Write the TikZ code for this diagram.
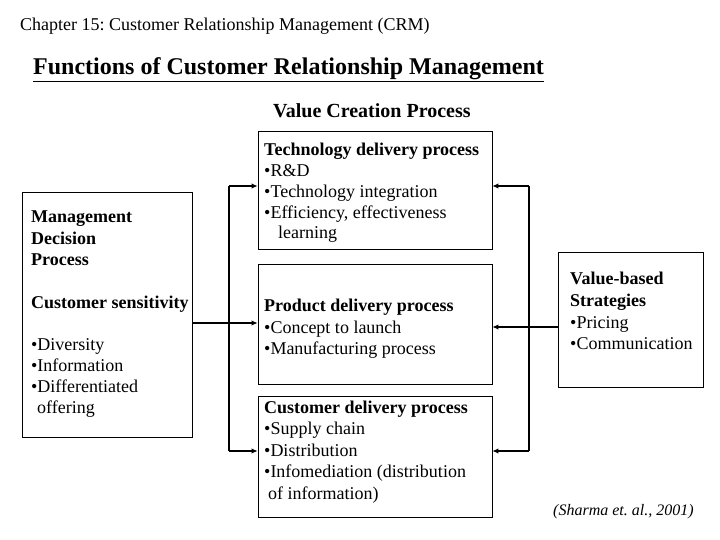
\documentclass[tikz,border=0pt]{standalone}
\usepackage{fontspec}
\setmainfont{Liberation Serif}
\usetikzlibrary{arrows.meta}
\frenchspacing
\tikzset{
  box/.style={draw=black, line width=0.8bp, rectangle, inner sep=0pt},
  conn/.style={draw=black, line width=1.7bp},
  arr/.style={conn, -{Latex[length=6bp,width=5.5bp]}},
  txt/.style={anchor=base west, inner sep=0pt, font=\fontsize{18bp}{21.5bp}\selectfont},
  btxt/.style={txt, font=\fontsize{18bp}{21.5bp}\selectfont\bfseries},
}
\begin{document}
\begin{tikzpicture}[x=1bp, y=-1bp]
\useasboundingbox (0,0) rectangle (720,540);
% headings
\node[anchor=base west, inner sep=0pt, font=\fontsize{18bp}{21bp}\selectfont] (chap) at (20,31) {Chapter 15: Customer Relationship Management (CRM)};
\node[anchor=base west, inner sep=0pt, font=\fontsize{24bp}{28bp}\selectfont\bfseries] (title) at (33,75) {\underline{Functions of Customer Relationship Management}};
\node[anchor=base west, inner sep=0pt, font=\fontsize{20bp}{24bp}\selectfont\bfseries] (vcp) at (273,118) {Value Creation Process};
\node[anchor=base west, inner sep=0pt, font=\fontsize{16bp}{19bp}\selectfont\itshape] (cite) at (553,515) {(Sharma et. al., 2001)};
% boxes
\node[box, minimum width=170bp, minimum height=245bp] (mgmt) at (107,314.5) {};
\node[box, minimum width=234bp, minimum height=118bp] (tech) at (375,190) {};
\node[box, minimum width=234bp, minimum height=120bp] (prod) at (375,324) {};
\node[box, minimum width=234bp, minimum height=121bp] (cust) at (375,456.5) {};
\node[box, minimum width=145bp, minimum height=135bp] (val) at (630.5,319.5) {};
% left box text
\node[btxt] (m1) at (31,223) {Management};
\node[btxt] (m2) at (31,245) {Decision};
\node[btxt] (m3) at (31,266) {Process};
\node[btxt] (m4) at (31,308) {Customer sensitivity};
\node[txt] (m5) at (31,350) {•Diversity};
\node[txt] (m6) at (31,371) {•Information};
\node[txt] (m7) at (31,392) {•Differentiated};
\node[txt] (m8) at (37,413) {offering};
% technology box text
\node[btxt] (t1) at (264,156) {Technology delivery process};
\node[txt] (t2) at (264,177) {•R\&D};
\node[txt] (t3) at (264,197.5) {•Technology integration};
\node[txt] (t4) at (264,218.5) {•Efficiency, effectiveness};
\node[txt] (t5) at (278,239) {learning};
% product box text
\node[btxt] (p1) at (264,311) {Product delivery process};
\node[txt] (p2) at (264,333) {•Concept to launch};
\node[txt] (p3) at (264,354.5) {•Manufacturing process};
% customer box text
\node[btxt] (c1) at (264,413) {Customer delivery process};
\node[txt] (c2) at (264,434.5) {•Supply chain};
\node[txt] (c3) at (264,456) {•Distribution};
\node[txt] (c4) at (264,477.5) {•Infomediation (distribution};
\node[txt] (c5) at (268,499) {of information)};
% value box text
\node[btxt] (v1) at (570,285) {Value-based};
\node[btxt] (v2) at (570,306.5) {Strategies};
\node[txt] (v3) at (570,328) {•Pricing};
\node[txt] (v4) at (570,349.5) {•Communication};
% connectors left
\coordinate (lt) at (229,186);
\coordinate (lm) at (229,323);
\coordinate (lb) at (229,451);
\draw[conn] (lt) -- (lb);
\draw[arr] (mgmt.east |- lm) -- (prod.west |- lm);
\draw[arr] (lt) -- (tech.west |- lt);
\draw[arr] (lb) -- (cust.west |- lb);
% connectors right
\coordinate (rt) at (529,186);
\coordinate (rm) at (529,327);
\coordinate (rb) at (529,451);
\draw[conn] (rt) -- (rb);
\draw[arr] (val.west |- rm) -- (prod.east |- rm);
\draw[arr] (rt) -- (tech.east |- rt);
\draw[arr] (rb) -- (cust.east |- rb);
\end{tikzpicture}
\end{document}
